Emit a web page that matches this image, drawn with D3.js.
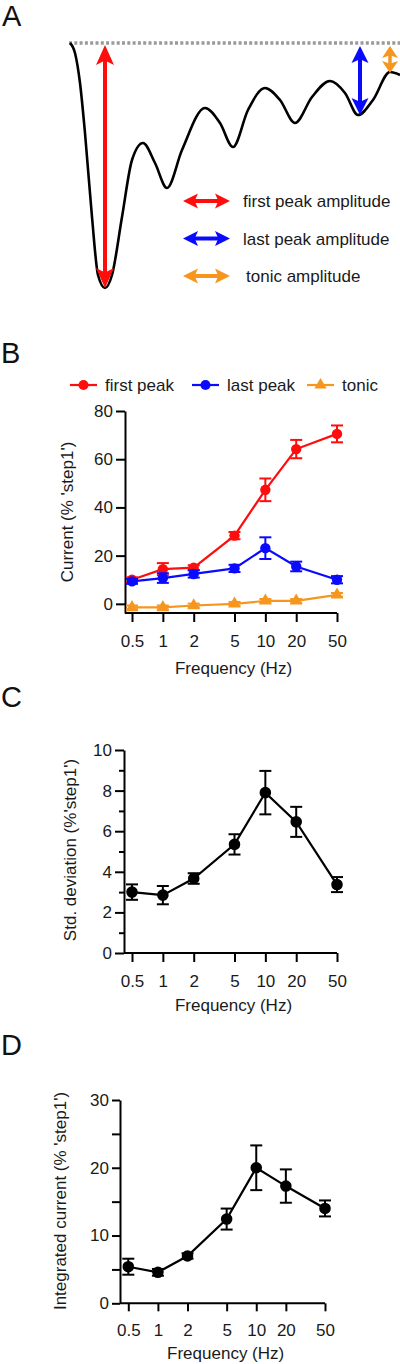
<!DOCTYPE html>
<html>
<head>
<meta charset="utf-8">
<script src="https://cdn.jsdelivr.net/npm/d3@7"></script>
<style>
  html, body { margin: 0; padding: 0; background: #fff; }
  svg { display: block; }
</style>
</head>
<body>
<script>
// ---------------- DATA ----------------
// Panel A: example current trace (time in arbitrary units, current normalised, 0 = baseline)
const traceTime    = [0, 5, 10, 15, 22, 28, 35, 42, 52, 62, 73, 85, 97, 112, 135, 150, 163, 178, 195, 210, 225, 242, 260, 275, 288, 303, 320, 330];
const traceCurrent = [0, -10, -40, -90, -174, -232, -245, -232, -174, -117, -100, -120, -145, -107, -65, -80, -104, -67, -45, -57, -80, -54, -38, -50, -72, -57, -29, -32];
const legendA = ["first peak amplitude", "last peak amplitude", "tonic amplitude"];

// Panels B–D: stimulation frequency
const freqs = [0.5, 1, 2, 5, 10, 20, 50];
const freqLabels = ["0.5", "1", "2", "5", "10", "20", "50"];

// Panel B: Current (% 'step1')
const seriesNames = ["first peak", "last peak", "tonic"];
const firstPeak    = [10.0, 14.4, 15.0, 28.3, 47.3, 64.2, 70.5];
const firstPeakErr = [1.0, 2.5, 1.0, 1.5, 4.7, 3.8, 3.5];
const lastPeak     = [9.3, 10.7, 12.4, 14.7, 23.1, 15.5, 10.0];
const lastPeakErr  = [1.0, 2.0, 1.5, 1.5, 4.5, 2.0, 1.5];
const tonic        = [-1.5, -1.5, -0.7, 0.0, 1.2, 1.2, 3.7];
const tonicErr     = [0.8, 0.8, 0.8, 0.8, 0.8, 0.8, 0.8];
const ticksB = [0, 20, 40, 60, 80];

// Panel C: Std. deviation (%'step1')
const stdDev    = [3.0, 2.85, 3.67, 5.35, 7.9, 6.46, 3.37];
const stdDevErr = [0.38, 0.45, 0.26, 0.5, 1.07, 0.74, 0.37];
const ticksC = [0, 2, 4, 6, 8, 10];
const minorTicksC = [1, 3, 5, 7, 9];

// Panel D: Integrated current (% 'step1')
const integrated    = [5.4, 4.57, 6.98, 12.43, 20.0, 17.3, 14.0];
const integratedErr = [1.18, 0.5, 0.4, 1.55, 3.3, 2.46, 1.18];
const ticksD = [0, 5, 10, 15, 20, 25, 30];

// ---------------- STYLE ----------------
const FONT = "'Liberation Sans', Arial, Helvetica, sans-serif";
const RED = "#ff0d0d", BLUE = "#0a0aff", ORANGE = "#f7961e", INK = "#111";

const svg = d3.select("body").append("svg")
  .attr("width", 400).attr("height", 1364)
  .style("font-family", FONT);

function panelLabel(txt, x, y) {
  svg.append("text").attr("x", x).attr("y", y).text(txt)
    .attr("font-size", 29).attr("fill", INK);
}

// ---------------- PANEL A ----------------
panelLabel("A", 2, 26);
const tx = d3.scaleLinear().domain([0, 330]).range([70, 400]);
const ty = d3.scaleLinear().domain([0, -245]).range([43, 288]);

svg.append("line")
  .attr("x1", tx(0) - 1).attr("x2", 400).attr("y1", ty(0)).attr("y2", ty(0))
  .attr("stroke", "#9a9a9a").attr("stroke-width", 3.5).attr("stroke-dasharray", "3,2.3");

const tracePts = traceTime.map((t, i) => [t, traceCurrent[i]]);
svg.append("path").datum(tracePts)
  .attr("d", d3.line().x(d => tx(d[0])).y(d => ty(d[1])).curve(d3.curveMonotoneX))
  .attr("fill", "none").attr("stroke", "#000").attr("stroke-width", 2.6);

function head(x, y, dx, dy, w, L) {
  const px = -dy, py = dx;
  const bx = x - dx * L, by = y - dy * L;
  const nx = x - dx * L * 0.78, ny = y - dy * L * 0.78;
  return `M${x},${y}L${bx + px * w / 2},${by + py * w / 2}L${nx},${ny}L${bx - px * w / 2},${by - py * w / 2}Z`;
}
function dblArrow(x1, y1, x2, y2, color, w, L, sw) {
  const len = Math.hypot(x2 - x1, y2 - y1);
  const dx = (x2 - x1) / len, dy = (y2 - y1) / len;
  const g = svg.append("g");
  g.append("line")
    .attr("x1", x1 + dx * L * 0.7).attr("y1", y1 + dy * L * 0.7)
    .attr("x2", x2 - dx * L * 0.7).attr("y2", y2 - dy * L * 0.7)
    .attr("stroke", color).attr("stroke-width", sw);
  g.append("path").attr("d", head(x2, y2, dx, dy, w, L)).attr("fill", color);
  g.append("path").attr("d", head(x1, y1, -dx, -dy, w, L)).attr("fill", color);
}
const iMin = d3.minIndex(traceCurrent);
const iLast = traceCurrent.length - 4;
const iTonic = traceCurrent.length - 2;
dblArrow(tx(traceTime[iMin]), ty(0) + 2, tx(traceTime[iMin]), ty(traceCurrent[iMin]), RED, 18, 20, 4);
dblArrow(tx(traceTime[iLast]) + 2, ty(0) + 3, tx(traceTime[iLast]) + 2, ty(traceCurrent[iLast]), BLUE, 17, 17, 4);
dblArrow(tx(traceTime[iTonic]), ty(0) + 3, tx(traceTime[iTonic]), ty(traceCurrent[iTonic]) + 1, ORANGE, 16, 12, 3.5);

const legAColors = [RED, BLUE, ORANGE];
const legAy = d3.scalePoint().domain(legendA).range([201, 276]);
legendA.forEach((name, i) => {
  const y = legAy(name);
  dblArrow(183, y, 230, y, legAColors[i], 15, 15, 4);
  svg.append("text").attr("x", i === 2 ? 246 : 243).attr("y", y).attr("dy", "0.36em")
    .attr("font-size", 17).attr("fill", "#1a1a1a").text(name);
});

// ---------------- generic plot ----------------
function plot(o) {
  const x = d3.scaleLog().domain([0.5, 50]).range(o.xRange);
  const y = d3.scaleLinear().domain(o.yDomain).range(o.yRange);
  const g = svg.append("g");

  g.append("g").attr("transform", `translate(${o.axisX},0)`)
    .call(d3.axisLeft(y).tickValues(o.yTicks).tickSize(o.tick).tickSizeOuter(0).tickPadding(3)
      .tickFormat(o.yFormat || (d => d)));
  if (o.minor) {
    g.append("g").attr("transform", `translate(${o.axisX},0)`)
      .call(d3.axisLeft(y).tickValues(o.minor).tickSize(5).tickSizeOuter(0).tickFormat(""))
      .select(".domain").remove();
  }
  const xa = g.append("g").attr("transform", `translate(0,${o.xAxisY})`)
    .call(d3.axisBottom(x).tickValues(freqs).tickFormat((d, i) => freqLabels[i])
      .tickSize(o.tick).tickSizeOuter(0).tickPadding(o.xPad));
  xa.select(".domain").remove();
  g.append("line").attr("x1", o.axisX).attr("x2", x(50)).attr("y1", o.xAxisY).attr("y2", o.xAxisY)
    .attr("stroke", "#000").attr("stroke-width", 2);

  g.selectAll(".domain, .tick line").attr("stroke", "#000").attr("stroke-width", 2);
  g.selectAll(".tick text").attr("font-size", 17).attr("font-family", FONT).attr("fill", "#1a1a1a");

  g.append("text").attr("x", (o.xRange[0] + o.xRange[1]) / 2 - 1).attr("y", o.xTitleY)
    .attr("text-anchor", "middle").attr("font-size", 17).attr("fill", "#1a1a1a").text("Frequency (Hz)");
  g.append("text")
    .attr("transform", `translate(${o.yTitleX},${o.yTitleY}) rotate(-90)`)
    .attr("text-anchor", "middle").attr("font-size", 17).attr("fill", "#1a1a1a").text(o.yTitle);

  o.series.forEach(s => {
    const pts = freqs.map((f, i) => ({ f, v: s.values[i], e: s.errs[i] }));
    g.append("path").datum(pts)
      .attr("d", d3.line().x(d => x(d.f)).y(d => y(d.v)))
      .attr("fill", "none").attr("stroke", s.color).attr("stroke-width", 2.2);
    const eb = g.append("g").attr("stroke", s.color).attr("stroke-width", 2);
    pts.forEach(d => {
      eb.append("line").attr("x1", x(d.f)).attr("x2", x(d.f)).attr("y1", y(d.v - d.e)).attr("y2", y(d.v + d.e));
      [d.v - d.e, d.v + d.e].forEach(v =>
        eb.append("line").attr("x1", x(d.f) - 6).attr("x2", x(d.f) + 6).attr("y1", y(v)).attr("y2", y(v)));
    });
    g.append("g").selectAll("path.m").data(pts).join("path")
      .attr("transform", d => `translate(${x(d.f)},${y(d.v)})`)
      .attr("d", d3.symbol().type(s.symbol).size(s.size))
      .attr("fill", s.color);
  });
  return { x, y };
}

// ---------------- PANEL B ----------------
panelLabel("B", 1, 363);
const legBColors = [RED, BLUE, ORANGE];
const legBSym = [d3.symbolCircle, d3.symbolCircle, d3.symbolTriangle];
const legBx = [70, 192, 307];
seriesNames.forEach((n, i) => {
  const y = 385;
  svg.append("line").attr("x1", legBx[i]).attr("x2", legBx[i] + 27).attr("y1", y).attr("y2", y)
    .attr("stroke", legBColors[i]).attr("stroke-width", 2.2);
  svg.append("path").attr("transform", `translate(${legBx[i] + 13.5},${y})`)
    .attr("d", d3.symbol().type(legBSym[i]).size(i === 2 ? 65 : 80)).attr("fill", legBColors[i]);
  svg.append("text").attr("x", legBx[i] + 35).attr("y", y).attr("dy", "0.36em")
    .attr("font-size", 17).attr("fill", "#1a1a1a").text(n);
});

plot({
  xRange: [132, 337], yDomain: [-3.8, 80], yRange: [613, 411], axisX: 125, xAxisY: 613,
  yTicks: ticksB, tick: 9, xPad: 13, xTitleY: 674, yTitleX: 73, yTitleY: 512,
  yTitle: "Current (% 'step1')",
  series: [
    { values: firstPeak, errs: firstPeakErr, color: RED, symbol: d3.symbolCircle, size: 85 },
    { values: lastPeak, errs: lastPeakErr, color: BLUE, symbol: d3.symbolCircle, size: 85 },
    { values: tonic, errs: tonicErr, color: ORANGE, symbol: d3.symbolTriangle, size: 70 }
  ]
});

// ---------------- PANEL C ----------------
panelLabel("C", 1, 707);
plot({
  xRange: [132, 337], yDomain: [0, 10], yRange: [953, 750], axisX: 124, xAxisY: 953,
  yTicks: ticksC, minor: minorTicksC, tick: 9, xPad: 13, xTitleY: 1011, yTitleX: 76, yTitleY: 850,
  yTitle: "Std. deviation (%'step1')",
  series: [{ values: stdDev, errs: stdDevErr, color: "#000", symbol: d3.symbolCircle, size: 105 }]
});

// ---------------- PANEL D ----------------
panelLabel("D", 1, 1055);
plot({
  xRange: [128.3, 325], yDomain: [0, 30], yRange: [1303.3, 1100], axisX: 120, xAxisY: 1303.3,
  yTicks: ticksD, tick: 8, xPad: 13, xTitleY: 1359, yTitleX: 66, yTitleY: 1201,
  yFormat: d => (d % 10 === 0 ? d : ""),
  yTitle: "Integrated current (% 'step1')",
  series: [{ values: integrated, errs: integratedErr, color: "#000", symbol: d3.symbolCircle, size: 105 }]
});
</script>
</body>
</html>
